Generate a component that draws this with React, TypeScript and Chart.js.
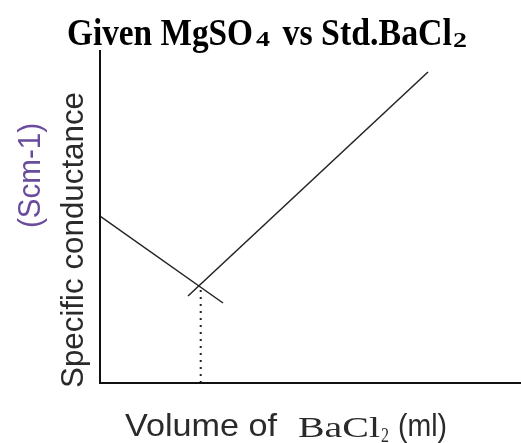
import React, { useEffect, useRef } from "react";
import { Chart, registerables } from "chart.js";

Chart.register(...registerables);

// Data (volume of BaCl2 in ml, specific conductance in arbitrary units)
const volumeBefore = [0, 12.3];
const condBefore = [16.7, 8.0];
const volumeAfter = [8.8, 32.8];
const condAfter = [8.7, 31.1];
const eqVolume = [10.07, 10.07];
const eqCond = [0, 9.8];

const xMax = 42.1;
const yMax = 33.3;

const titleParts = ["Given MgSO", "4", " vs Std.BaCl", "2"];
const yLabelMain = "Specific conductance";
const yLabelUnit = "(Scm-1)";
const xLabelParts = ["Volume of", "BaCl", "2", "(ml)"];

const SANS = '"Liberation Sans", Arial, sans-serif';
const SERIF = '"Liberation Serif", "Times New Roman", serif';

function fitText(
  ctx: CanvasRenderingContext2D,
  text: string,
  x: number,
  y: number,
  width: number,
  font: string,
  color: string,
  rotate = 0
) {
  ctx.save();
  ctx.font = font;
  ctx.fillStyle = color;
  ctx.textBaseline = "alphabetic";
  ctx.textAlign = "left";
  const m = ctx.measureText(text).width;
  ctx.translate(x, y);
  if (rotate) ctx.rotate(rotate);
  ctx.scale(width / m, 1);
  ctx.fillText(text, 0, 0);
  ctx.restore();
}

const decorPlugin = {
  id: "decor",
  afterDraw(chart: any) {
    const ctx: CanvasRenderingContext2D = chart.ctx;
    const { left, right, top, bottom } = chart.chartArea;
    // axes
    ctx.save();
    ctx.strokeStyle = "#111";
    ctx.lineWidth = 2;
    ctx.beginPath();
    ctx.moveTo(left, top);
    ctx.lineTo(left, bottom);
    ctx.lineTo(right, bottom);
    ctx.stroke();
    ctx.restore();

    // title
    fitText(ctx, titleParts[0], 67, 45, 186, `bold 38px ${SERIF}`, "#000");
    fitText(ctx, titleParts[1], 256, 46, 14, `bold 22px ${SERIF}`, "#000");
    fitText(ctx, titleParts[2], 274, 45, 178, `bold 38px ${SERIF}`, "#000");
    fitText(ctx, titleParts[3], 453, 47, 14, `bold 22px ${SERIF}`, "#000");

    // x label
    fitText(ctx, xLabelParts[0], 125, 436, 152, `32px ${SANS}`, "#2a2a2a");
    fitText(ctx, xLabelParts[1], 298, 437, 82, `30px ${SERIF}`, "#2a2a2a");
    fitText(ctx, xLabelParts[2], 381, 442, 8, `20px ${SERIF}`, "#2a2a2a");
    fitText(ctx, xLabelParts[3], 398, 436, 49, `32px ${SANS}`, "#2a2a2a");

    // y label
    fitText(ctx, yLabelMain, 83, 388, 296, `32px ${SANS}`, "#2a2a2a", -Math.PI / 2);
    fitText(ctx, yLabelUnit, 40, 228, 105, `32px ${SANS}`, "#6a4c9c", -Math.PI / 2);
  },
};

export default function App() {
  const ref = useRef<HTMLCanvasElement>(null);
  useEffect(() => {
    if (!ref.current) return;
    const toPts = (xs: number[], ys: number[]) => xs.map((x, i) => ({ x, y: ys[i] }));
    const chart = new Chart(ref.current, {
      type: "line",
      data: {
        datasets: [
          {
            data: toPts(volumeBefore, condBefore),
            borderColor: "#222",
            borderWidth: 1.5,
            pointRadius: 0,
          },
          {
            data: toPts(volumeAfter, condAfter),
            borderColor: "#222",
            borderWidth: 1.5,
            pointRadius: 0,
          },
          {
            data: toPts(eqVolume, eqCond),
            borderColor: "#222",
            borderWidth: 2,
            borderDash: [2, 5],
            pointRadius: 0,
          },
        ],
      },
      options: {
        animation: false,
        responsive: false,
        layout: { padding: { left: 100, right: 0, top: 50, bottom: 60 } },
        plugins: { legend: { display: false }, title: { display: false }, tooltip: { enabled: false } },
        scales: {
          x: { type: "linear", min: 0, max: xMax, display: false },
          y: { type: "linear", min: 0, max: yMax, display: false },
        },
      },
      plugins: [decorPlugin],
    });
    return () => chart.destroy();
  }, []);
  return (
    <canvas
      ref={ref}
      width={521}
      height={443}
      style={{ position: "absolute", left: 0, top: 0, display: "block", background: "#fff" }}
    />
  );
}
